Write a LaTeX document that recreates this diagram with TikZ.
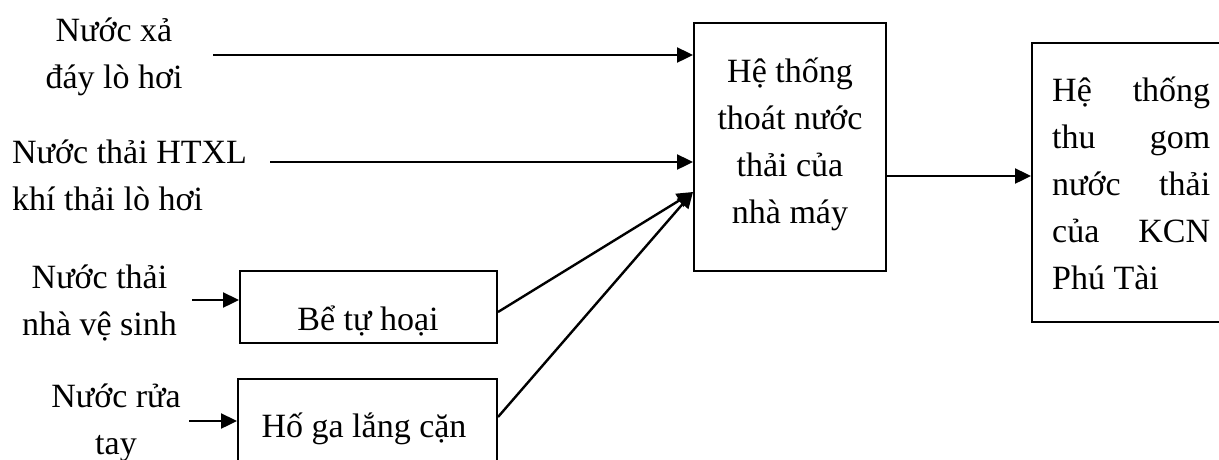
\documentclass[tikz,border=0pt]{standalone}
\usepackage{fontspec}
\setmainfont{Liberation Serif}
\usetikzlibrary{arrows.meta,calc}
\newcommand{\jl}[2]{\hbox to 158pt{#1\hfill #2}}
\begin{document}
\begin{tikzpicture}[x=1pt,y=-1pt,
  box/.style={draw, line width=2pt, inner sep=0pt},
  txt/.style={inner sep=0pt, font=\fontsize{34}{47}\selectfont},
  flow/.style={line width=2.4pt, -{Triangle[length=16pt,width=15pt]}}]
\useasboundingbox (0,0) rectangle (1219,459);
% boxes
\node[box, minimum width=192pt, minimum height=248pt] (main) at (790,147) {};
\node[box, minimum width=198pt, minimum height=279pt] (rb) at (1131,182.5) {};
\node[box, minimum width=257pt, minimum height=72pt] (bt) at (368.5,307) {};
\node[box, minimum width=259pt, minimum height=101pt] (hg) at (367.5,429.5) {};
% box texts (base anchor = baseline of last line)
\node[txt, align=center, anchor=base] (maintext) at (790,223) {Hệ thống\\thoát nước\\thải của\\nhà máy};
\node[txt, align=left, anchor=base west] (rbtext) at (1052,289) {\jl{Hệ}{thống}\\\jl{thu}{gom}\\\jl{nước}{thải}\\\jl{của}{KCN}\\Phú Tài};
\node[txt, anchor=base] (bttext) at (368,330) {Bể tự hoại};
\node[txt, anchor=base] (hgtext) at (364,437) {Hố ga lắng cặn};
% source labels
\node[txt, align=center, anchor=base] (l1) at (114,88) {Nước xả\\đáy lò hơi};
\node[txt, align=left, anchor=base west] (l2) at (12,210) {Nước thải HTXL\\khí thải lò hơi};
\node[txt, align=center, anchor=base] (l3) at (99.5,335) {Nước thải\\nhà vệ sinh};
\node[txt, align=center, anchor=base] (l4) at (116,454) {Nước rửa\\tay};
% connector ends
\coordinate (c1) at (213,55);
\coordinate (c2) at (270,162);
\coordinate (c5) at (192,300);
\coordinate (c6) at (189,421);
\coordinate (m3) at (main.west |- 0,192);
\coordinate (mo) at (main.east |- 0,176);
\coordinate (bo) at (bt.east |- 0,312);
\coordinate (ho) at (hg.east |- 0,417);
% connectors
\draw[flow] (c1) -- (c1 -| main.west);
\draw[flow] (c2) -- (c2 -| main.west);
\draw[flow] (bo) -- (m3);
\draw[flow] (ho) -- (m3);
\draw[flow] (c5) -- (c5 -| bt.west);
\draw[flow] (c6) -- (c6 -| hg.west);
\draw[flow] (mo) -- (mo -| rb.west);
\end{tikzpicture}
\end{document}
